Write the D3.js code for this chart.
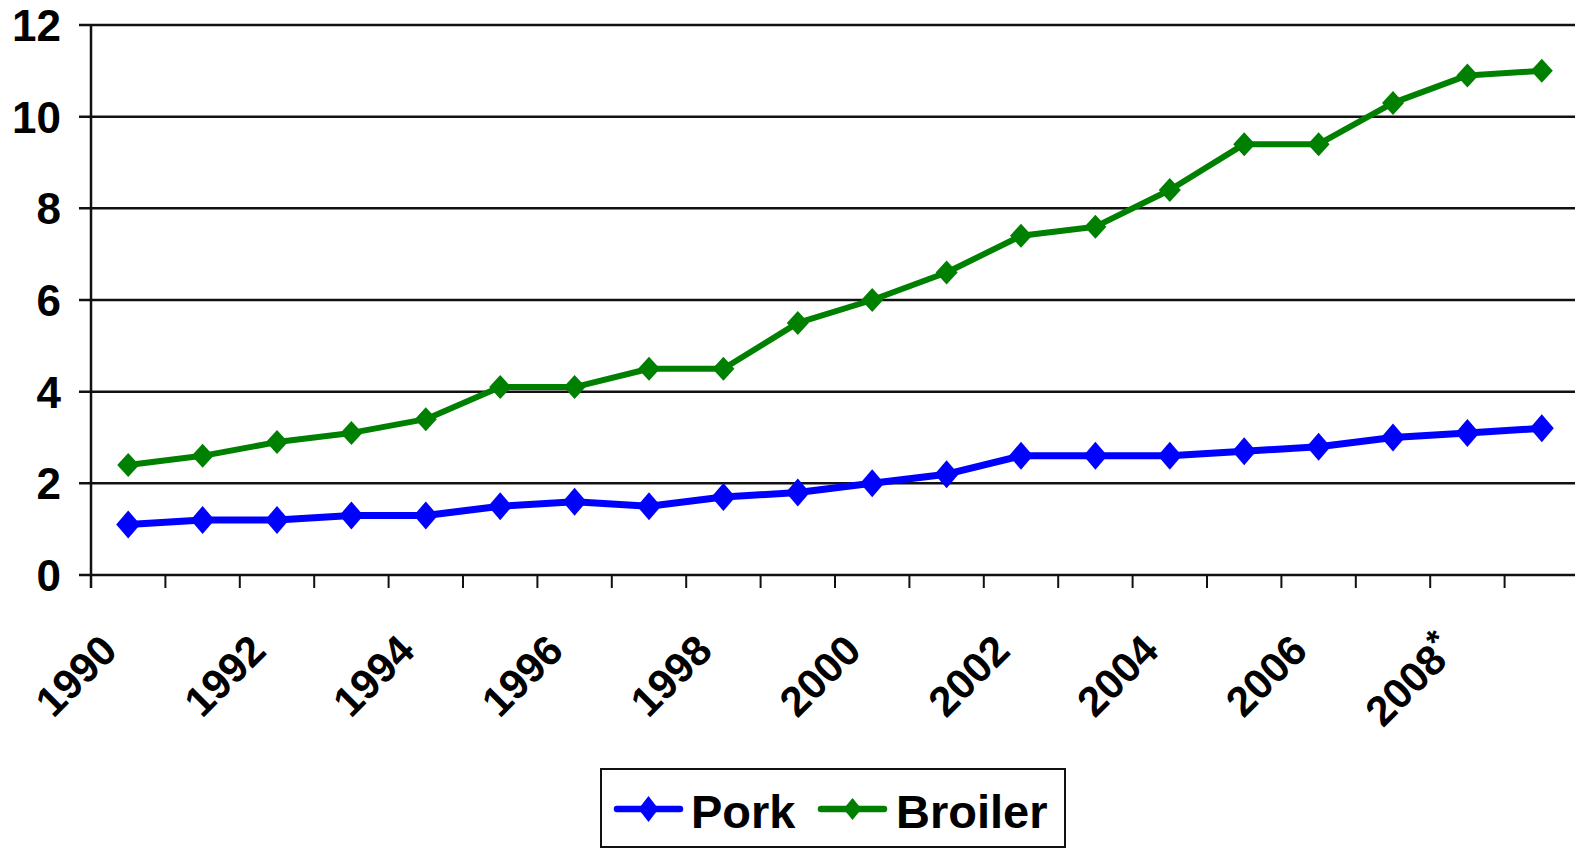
<!DOCTYPE html>
<html>
<head>
<meta charset="utf-8">
<script src="https://cdn.jsdelivr.net/npm/d3@7/dist/d3.min.js"></script>
<style>
  html, body { margin: 0; padding: 0; background: #fff; overflow: hidden; }
  text { font-family: Arial, "Liberation Sans", sans-serif; font-weight: bold; fill: #000; }
</style>
</head>
<body>
<div id="chart"></div>
<script>
const years = ['1990','1991','1992','1993','1994','1995','1996','1997','1998','1999',
               '2000','2001','2002','2003','2004','2005','2006','2007','2008','2009'];
const yearLabels = ['1990','','1992','','1994','','1996','','1998','',
                    '2000','','2002','','2004','','2006','','2008*',''];
const pork    = [1.1, 1.2, 1.2, 1.3, 1.3, 1.5, 1.6, 1.5, 1.7, 1.8,
                 2.0, 2.2, 2.6, 2.6, 2.6, 2.7, 2.8, 3.0, 3.1, 3.2];
const broiler = [2.4, 2.6, 2.9, 3.1, 3.4, 4.1, 4.1, 4.5, 4.5, 5.5,
                 6.0, 6.6, 7.4, 7.6, 8.4, 9.4, 9.4, 10.3, 10.9, 11.0];
const yTicks = [0, 2, 4, 6, 8, 10, 12];

const series = [
  {name: 'Pork',    values: pork,    color: '#0000ff', width: 7, mw: 12, mh: 14},
  {name: 'Broiler', values: broiler, color: '#008000', width: 6, mw: 11, mh: 12}
];

const W = 1575, H = 848;
const plotLeft = 91, plotRight = 1579, plotTop = 25, plotBottom = 575;

const svg = d3.select('#chart').append('svg')
  .attr('width', W)
  .attr('height', H);

const x = d3.scaleBand()
  .domain(years)
  .range([plotLeft, plotRight])
  .padding(0);

const y = d3.scaleLinear()
  .domain([0, 12])
  .range([plotBottom, plotTop]);

const cx = d => x(d) + x.bandwidth() / 2;

// gridlines
svg.append('g').selectAll('line')
  .data(yTicks)
  .enter().append('line')
    .attr('x1', plotLeft - 12)
    .attr('x2', W)
    .attr('y1', d => y(d))
    .attr('y2', d => y(d))
    .attr('stroke', '#111')
    .attr('stroke-width', 2.5);

// y axis line
svg.append('line')
  .attr('x1', plotLeft).attr('x2', plotLeft)
  .attr('y1', y(12)).attr('y2', plotBottom + 13)
  .attr('stroke', '#111')
  .attr('stroke-width', 2.5);

// y labels
svg.append('g').selectAll('text')
  .data(yTicks)
  .enter().append('text')
    .attr('x', plotLeft - 30)
    .attr('y', d => y(d))
    .attr('dy', '0.36em')
    .attr('text-anchor', 'end')
    .style('font-size', '44px')
    .text(d => d);

// x ticks at category boundaries
svg.append('g').selectAll('line')
  .data(years.slice(1))
  .enter().append('line')
    .attr('x1', d => x(d))
    .attr('x2', d => x(d))
    .attr('y1', plotBottom)
    .attr('y2', plotBottom + 13)
    .attr('stroke', '#111')
    .attr('stroke-width', 2);

// x labels, rotated
const xl = svg.append('g').selectAll('text')
  .data(years.map((d, i) => ({year: d, label: yearLabels[i]})).filter(d => d.label))
  .enter().append('text')
    .attr('text-anchor', 'end')
    .style('font-size', '42px')
    .attr('transform', d => `translate(${cx(d.year) - 9},${plotBottom + 78}) rotate(-45)`);

xl.append('tspan').text(d => d.label.replace('*', ''));
xl.filter(d => d.label.includes('*')).append('tspan')
  .attr('dy', -13)
  .style('font-size', '34px')
  .text('*');

// lines and markers
const line = d3.line()
  .x((d, i) => cx(years[i]))
  .y(d => y(d));

const diamond = (w, h) => `M0,${-h}L${w},0L0,${h}L${-w},0Z`;

series.forEach(s => {
  svg.append('path')
    .datum(s.values)
    .attr('d', line)
    .attr('fill', 'none')
    .attr('stroke', s.color)
    .attr('stroke-width', s.width)
    .attr('stroke-linejoin', 'round');

  svg.append('g').selectAll('path')
    .data(s.values)
    .enter().append('path')
      .attr('d', diamond(s.mw, s.mh))
      .attr('transform', (d, i) => `translate(${cx(years[i])},${y(d)})`)
      .attr('fill', s.color);
});

// legend
const legend = svg.append('g');
legend.append('rect')
  .attr('x', 601).attr('y', 769)
  .attr('width', 464).attr('height', 78)
  .attr('fill', '#fff')
  .attr('stroke', '#111')
  .attr('stroke-width', 2);

const legendItems = [
  {s: series[0], x0: 617, x1: 680, tx: 691},
  {s: series[1], x0: 821, x1: 884, tx: 896}
];
legendItems.forEach(it => {
  legend.append('line')
    .attr('x1', it.x0).attr('x2', it.x1)
    .attr('y1', 809).attr('y2', 809)
    .attr('stroke', it.s.color)
    .attr('stroke-width', 6.5)
    .attr('stroke-linecap', 'round');
  legend.append('path')
    .attr('d', diamond(it.s.mw - 2, it.s.mh - 1))
    .attr('transform', `translate(${(it.x0 + it.x1) / 2},809)`)
    .attr('fill', it.s.color);
  legend.append('text')
    .attr('x', it.tx)
    .attr('y', 828)
    .style('font-size', '47px')
    .text(it.s.name);
});
</script>
</body>
</html>
